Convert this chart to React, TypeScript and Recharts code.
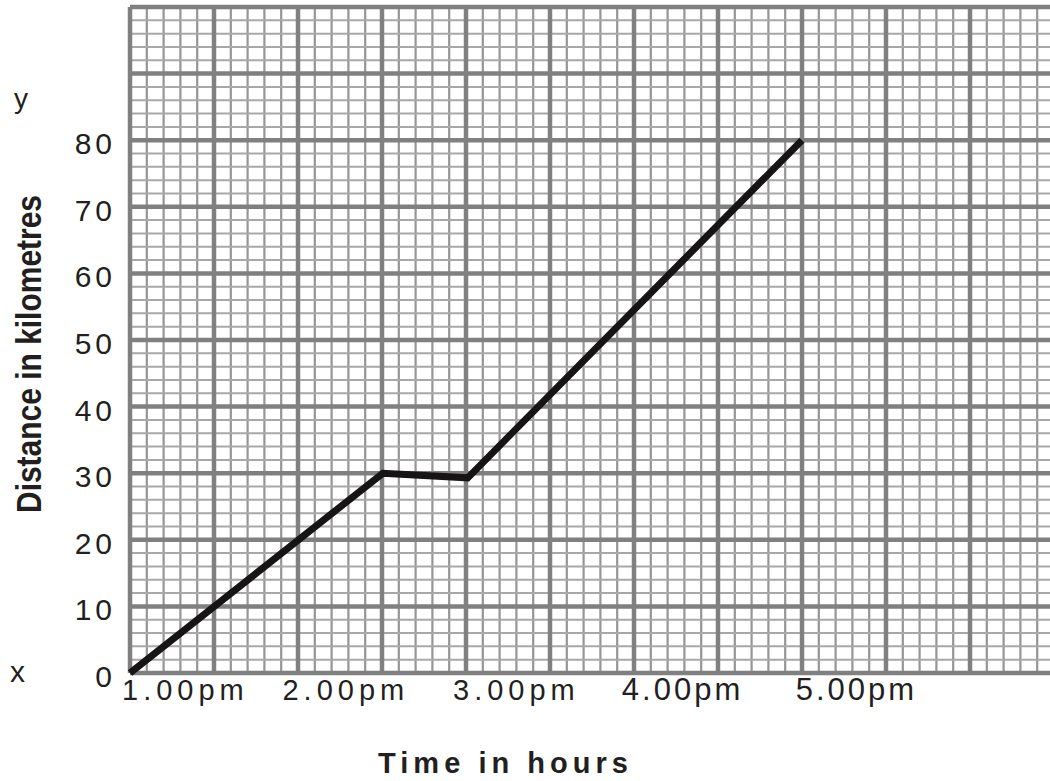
import React from 'react';
import { LineChart, Line, XAxis, YAxis, ReferenceLine } from 'recharts';

// Journey points: position along the time axis (in big grid squares from 1.00pm) and distance in km
const pointX = [0, 3.01, 4.02, 8.0];
const distanceKm = [0, 30, 29.3, 80];

// Axis tick values and labels
const yTickValues = [0, 10, 20, 30, 40, 50, 60, 70, 80];
const timeLabels = ['1.00pm', '2.00pm', '3.00pm', '4.00pm', '5.00pm'];
const timeLabelPositions = [0.63, 2.54, 4.57, 6.56, 8.63];

// Graph-paper grid values
const xMax = 11;
const yMax = 100;
const xMajor = Array.from({ length: xMax + 1 }, (_, i) => i);
const xMinor = Array.from({ length: xMax * 5 + 1 }, (_, i) => i / 5).filter((v) => Math.abs(v - Math.round(v)) > 1e-6);
const yMajor = Array.from({ length: yMax / 10 + 1 }, (_, i) => i * 10);
const yMinor = Array.from({ length: yMax / 2 + 1 }, (_, i) => i * 2).filter((v) => v % 10 !== 0);

const data = pointX.map((x, i) => ({ x, km: distanceKm[i] }));

const FONT = '"Liberation Sans", Arial, sans-serif';
const TEXT = '#231f20';

const XTick = (props: any) => {
  const { x, y, payload, index } = props;
  const idx = timeLabelPositions.indexOf(payload.value);
  const wide = idx >= 3;
  return (
    <text
      x={x + (wide ? 1.5 : 2.5)}
      y={y + 27}
      textAnchor="middle"
      fontSize={wide ? 31 : 29}
      letterSpacing={wide ? 3 : 5}
      fill={TEXT}
      fontFamily={FONT}
    >
      {timeLabels[idx]}
    </text>
  );
};

const YTick = (props: any) => {
  const { x, y, payload } = props;
  return (
    <text x={x - 14} y={y + 14} textAnchor="end" fontSize={30} letterSpacing={4} fill={TEXT} fontFamily={FONT}>
      {payload.value}
    </text>
  );
};

export default function App() {
  return (
    <div style={{ position: 'absolute', left: 0, top: 0, width: 1050, height: 781, overflow: 'hidden', background: '#fff' }}>
      <LineChart width={1056} height={781} data={data} margin={{ top: 7, right: 2, bottom: 78, left: 90 }}>
        <XAxis
          dataKey="x"
          type="number"
          domain={[0, xMax]}
          ticks={timeLabelPositions}
          interval={0}
          tick={XTick}
          tickLine={false}
          axisLine={false}
          tickSize={0}
          tickMargin={0}
          height={30}
        />
        <YAxis
          type="number"
          domain={[0, yMax]}
          ticks={yTickValues}
          interval={0}
          tick={YTick}
          tickLine={false}
          axisLine={false}
          tickSize={0}
          tickMargin={0}
          width={40}
        />
        {xMinor.map((v) => (
          <ReferenceLine key={`xm${v}`} x={v} stroke="#959595" strokeWidth={2.2} />
        ))}
        {yMinor.map((v) => (
          <ReferenceLine key={`ym${v}`} y={v} stroke="#a8a8a8" strokeWidth={2} />
        ))}
        {xMajor.map((v) => (
          <ReferenceLine key={`xM${v}`} x={v} stroke="#808080" strokeWidth={4.5} />
        ))}
        {yMajor.map((v) => (
          <ReferenceLine key={`yM${v}`} y={v} stroke="#808080" strokeWidth={4.5} />
        ))}
        <Line type="linear" dataKey="km" stroke="#161414" strokeWidth={7} dot={false} isAnimationActive={false} />
      </LineChart>
      <svg width={1050} height={781} style={{ position: 'absolute', left: 0, top: 0, pointerEvents: 'none' }}>
        <text x={14} y={108} fontSize={28} fill={TEXT} fontFamily={FONT}>y</text>
        <text x={10} y={682} fontSize={30} fill={TEXT} fontFamily={FONT}>x</text>
        <text
          transform="translate(41,354) rotate(-90)"
          textAnchor="middle"
          fontSize={35}
          fontWeight="bold"
          fill={TEXT}
          fontFamily={FONT}
          textLength={318}
          lengthAdjust="spacingAndGlyphs"
        >
          Distance in kilometres
        </text>
        <text
          x={503}
          y={773}
          textAnchor="middle"
          fontSize={29}
          fontWeight="bold"
          fill={TEXT}
          fontFamily={FONT}
          textLength={250}
          lengthAdjust="spacing"
        >
          Time in hours
        </text>
      </svg>
    </div>
  );
}
